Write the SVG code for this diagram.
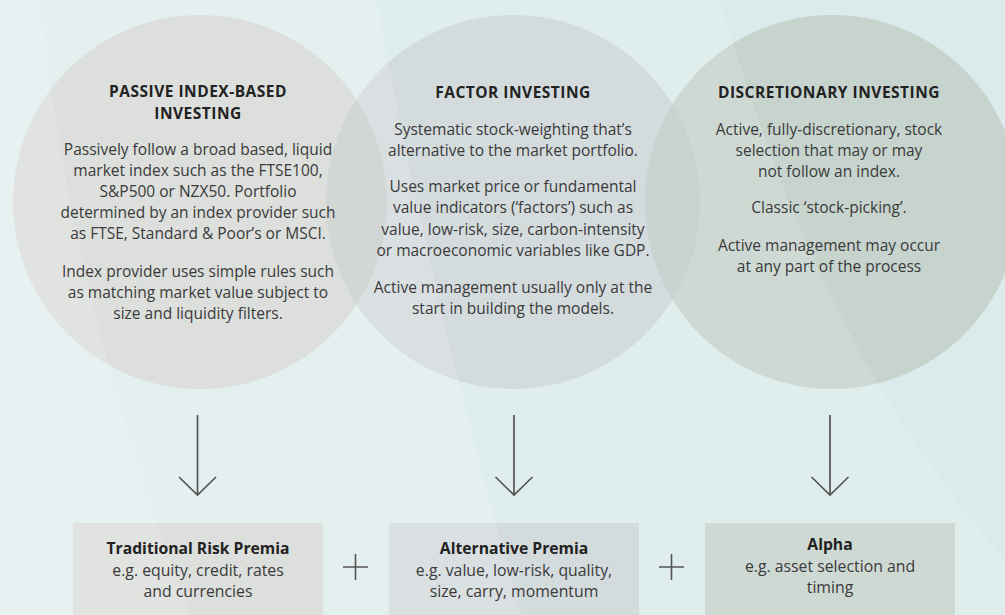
<svg xmlns="http://www.w3.org/2000/svg" width="1005" height="615" viewBox="0 0 1005 615">
  <defs>
    <style>
      .title { font-family: "Open Sans", "Liberation Sans", sans-serif; font-weight: 700; font-size: 15.5px; letter-spacing: 0.5px; fill: #222; text-anchor: middle; }
      .body { font-family: "Open Sans", "Liberation Sans", sans-serif; font-size: 15.5px; fill: #3a3a3a; text-anchor: middle; }
      .bbody { font-family: "Open Sans", "Liberation Sans", sans-serif; font-size: 15.8px; fill: #3a3a3a; text-anchor: middle; }
      .btitle { font-family: "Open Sans", "Liberation Sans", sans-serif; font-weight: 700; font-size: 15.7px; fill: #222; text-anchor: middle; }
      .wash { fill: #ffffff; fill-opacity: 0.15; }
      .arrow { fill: none; stroke: #555; stroke-width: 1.7; }
      .plus { fill: none; stroke: #555; stroke-width: 1.6; }
    </style>
    <clipPath id="clip-c1"><circle cx="200" cy="202" r="187"/></clipPath>
    <clipPath id="clip-c2"><circle cx="513" cy="202" r="187"/></clipPath>
  </defs>

  <!-- backdrop -->
  <rect width="1005" height="615" fill="#dbeaea"/>

  <!-- three approaches as overlapping circles -->
  <g id="passive">
    <circle cx="200" cy="202" r="187" fill="#cfd4cf"/>
  </g>
  <g id="factor">
    <circle cx="513" cy="202" r="187" fill="#cdd5d7"/>
    <circle cx="513" cy="202" r="187" fill="#c1c8c6" clip-path="url(#clip-c1)"/>
  </g>
  <g id="discretionary">
    <circle cx="832" cy="202" r="187" fill="#c7d3cd"/>
    <circle cx="832" cy="202" r="187" fill="#c0cac8" clip-path="url(#clip-c2)"/>
  </g>

  <!-- result boxes -->
  <g id="traditional-box"><rect x="73" y="523" width="250" height="92" fill="#cfd4cf"/></g>
  <g id="alternative-box"><rect x="389" y="523" width="250" height="92" fill="#cdd5d7"/></g>
  <g id="alpha-box"><rect x="705" y="523" width="250" height="92" fill="#c7d3cd"/></g>

  <!-- soft light sweeps over the backdrop -->
  <path class="wash" d="M0,0 H720 C780,200 850,380 1005,560 V615 H0 Z"/>
  <path class="wash" d="M0,0 H377 Q430,300 522,615 H0 Z"/>
  <path class="wash" d="M0,0 H40 Q70,300 190,615 H0 Z"/>

  <!-- circle texts -->
  <g id="passive-text">
    <text class="title" x="198" y="97">PASSIVE INDEX-BASED</text>
    <text class="title" x="198" y="119">INVESTING</text>
    <text class="body" x="198" y="155">Passively follow a broad based, liquid</text>
    <text class="body" x="198" y="176">market index such as the FTSE100,</text>
    <text class="body" x="198" y="197">S&amp;P500 or NZX50. Portfolio</text>
    <text class="body" x="198" y="218">determined by an index provider such</text>
    <text class="body" x="198" y="239">as FTSE, Standard &amp; Poor’s or MSCI.</text>
    <text class="body" x="198" y="277">Index provider uses simple rules such</text>
    <text class="body" x="198" y="298">as matching market value subject to</text>
    <text class="body" x="198" y="319">size and liquidity filters.</text>
  </g>
  <g id="factor-text">
    <text class="title" x="513" y="98">FACTOR INVESTING</text>
    <text class="body" x="513" y="135">Systematic stock-weighting that’s</text>
    <text class="body" x="513" y="156">alternative to the market portfolio.</text>
    <text class="body" x="513" y="192">Uses market price or fundamental</text>
    <text class="body" x="513" y="213">value indicators (‘factors’) such as</text>
    <text class="body" x="513" y="235">value, low-risk, size, carbon-intensity</text>
    <text class="body" x="513" y="256">or macroeconomic variables like GDP.</text>
    <text class="body" x="513" y="293">Active management usually only at the</text>
    <text class="body" x="513" y="314">start in building the models.</text>
  </g>
  <g id="discretionary-text">
    <text class="title" x="829" y="98">DISCRETIONARY INVESTING</text>
    <text class="body" x="829" y="135">Active, fully-discretionary, stock</text>
    <text class="body" x="829" y="156">selection that may or may</text>
    <text class="body" x="829" y="177">not follow an index.</text>
    <text class="body" x="829" y="213">Classic ‘stock-picking’.</text>
    <text class="body" x="829" y="251">Active management may occur</text>
    <text class="body" x="829" y="272">at any part of the process</text>
  </g>

  <!-- connectors -->
  <g id="connectors">
    <path class="arrow" d="M197.5,415 V495 M179,477 L197.5,495 L216,477"/>
    <path class="arrow" d="M514,415 V495 M495.5,477 L514,495 L532.5,477"/>
    <path class="arrow" d="M830,415 V495 M811.5,477 L830,495 L848.5,477"/>
    <path class="plus" d="M343,567 H368 M355.5,554 V580"/>
    <path class="plus" d="M659,567 H684 M671.5,554 V580"/>
  </g>

  <!-- box texts -->
  <g id="traditional-text">
    <text class="btitle" x="198" y="554">Traditional Risk Premia</text>
    <text class="bbody" x="198" y="576">e.g. equity, credit, rates</text>
    <text class="bbody" x="198" y="597">and currencies</text>
  </g>
  <g id="alternative-text">
    <text class="btitle" x="514" y="554">Alternative Premia</text>
    <text class="bbody" x="514" y="576">e.g. value, low-risk, quality,</text>
    <text class="bbody" x="514" y="597">size, carry, momentum</text>
  </g>
  <g id="alpha-text">
    <text class="btitle" x="830" y="550">Alpha</text>
    <text class="bbody" x="830" y="572">e.g. asset selection and</text>
    <text class="bbody" x="830" y="593">timing</text>
  </g>
</svg>
